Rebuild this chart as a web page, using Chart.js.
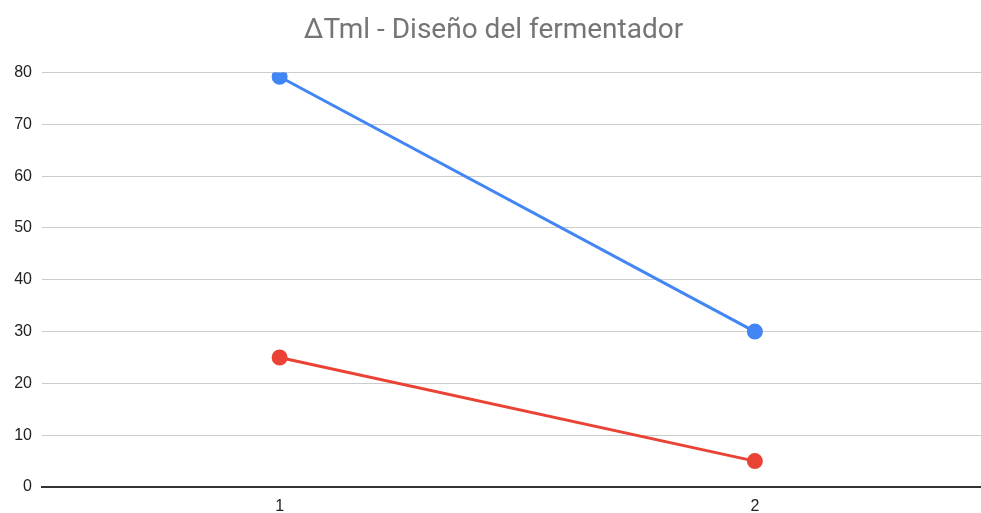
<!DOCTYPE html>
<html>
<head>
<meta charset="utf-8">
<script src="https://cdn.jsdelivr.net/npm/chart.js@4"></script>
<style>
  html, body { margin:0; padding:0; background:#fff; overflow:hidden; }
  /* the plot runs past the right edge of the window, like the cropped original */
  #chart { display:block; margin-left:-15px; }
</style>
</head>
<body>
<canvas id="chart" width="1017" height="513"></canvas>
<script>
const labels = ['1', '2'];
const serieAzul = [79.2, 30];
const serieRoja = [25, 5];
const yTicks = [0, 10, 20, 30, 40, 50, 60, 70, 80];

const tickFont = { family:'Liberation Sans, Arial, sans-serif', size:16 };

const ctx = document.getElementById('chart').getContext('2d');
new Chart(ctx, {
  type: 'line',
  data: {
    labels: labels,
    datasets: [
      { data: serieAzul, borderColor:'#4285F4', backgroundColor:'#4285F4', borderWidth:3, pointRadius:6.5, pointHoverRadius:6.5, tension:0 },
      { data: serieRoja, borderColor:'#EA4335', backgroundColor:'#EA4335', borderWidth:3, pointRadius:6.5, pointHoverRadius:6.5, tension:0 }
    ]
  },
  options: {
    responsive: false,
    animation: false,
    layout: { padding: 0 },
    plugins: {
      legend: { display:false },
      tooltip: { enabled:false },
      title: {
        display: true,
        text: 'ΔTml - Diseño del fermentador',
        color: '#757575',
        font: { family:'Roboto', size:28, weight:'normal' },
        padding: { top:14, bottom:25 }
      }
    },
    scales: {
      x: {
        offset: true,
        grid: { display:true, color:'rgba(0,0,0,0)', drawOnChartArea:false, drawTicks:true, tickLength:10 },
        border: { display:true, color:'#333333', width:2 },
        ticks: { color:'#222222', padding:0, font:tickFont },
        afterFit: s => { s.height = 26; }
      },
      y: {
        min: 0, max: 80,
        afterBuildTicks: s => { s.ticks = yTicks.map(v => ({ value:v })); },
        grid: { color:'#cccccc', lineWidth:1, drawTicks:false },
        border: { display:false },
        ticks: { color:'#222222', padding:10, font:tickFont },
        afterFit: s => { s.width = 57; }
      }
    }
  }
});
</script>
</body>
</html>
